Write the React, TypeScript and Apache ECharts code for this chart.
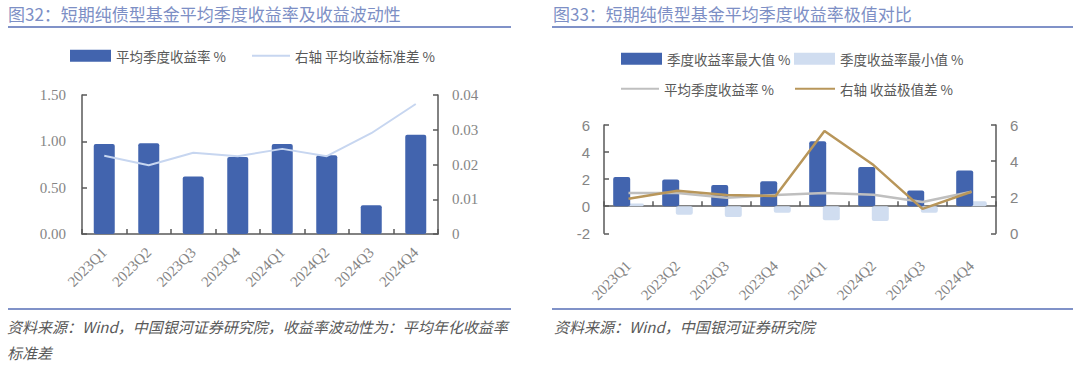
import React, { useEffect, useRef } from 'react';
import * as echarts from 'echarts';

const categories = ['2023Q1', '2023Q2', '2023Q3', '2023Q4', '2024Q1', '2024Q2', '2024Q3', '2024Q4'];
// Figure 32
const avgReturn = [0.97, 0.98, 0.62, 0.83, 0.97, 0.85, 0.31, 1.07];
const avgStd = [0.0225, 0.0198, 0.0234, 0.0224, 0.0245, 0.0224, 0.029, 0.0374];
// Figure 33
const maxReturn = [2.15, 1.97, 1.56, 1.85, 4.8, 2.9, 1.17, 2.63];
const minReturn = [0.2, -0.63, -0.8, -0.48, -1.04, -1.09, -0.48, 0.36];
const rangeReturn = [1.92, 2.36, 2.12, 2.07, 5.67, 3.78, 1.35, 2.3];

const title32 = '图32：短期纯债型基金平均季度收益率及收益波动性';
const title33 = '图33：短期纯债型基金平均季度收益率极值对比';
const source32 = ['资料来源：Wind，中国银河证券研究院，收益率波动性为：平均年化收益率', '标准差'];
const source33 = ['资料来源：Wind，中国银河证券研究院'];

const names32 = ['平均季度收益率 %', '右轴 平均收益标准差 %'];
const names33 = ['季度收益率最大值 %', '季度收益率最小值 %', '平均季度收益率 %', '右轴 收益极值差 %'];

const CJK = '"Noto Sans CJK SC", "Noto Sans", sans-serif';
const SERIF = '"Liberation Serif", "DejaVu Serif", serif';
const SANS = '"Liberation Sans", "DejaVu Sans", sans-serif';
const TITLE_COLOR = '#7D8FC5';
const RULE_COLOR = '#8092C8';
const TEXT_COLOR = '#595959';
const LABEL_COLOR = '#858585';
const AXIS_COLOR = '#595959';
const DARK = '#4264AE';
const LIGHT = '#D0DDF0';

function frame(title: string, titleX: number, x1: number, x2: number, footer: string[], footX: number) {
  const g: any[] = [
    {
      type: 'text',
      x: titleX,
      y: 13,
      style: { text: title, fill: TITLE_COLOR, fontSize: 17, fontFamily: CJK, verticalAlign: 'middle' },
    },
    { type: 'line', shape: { x1, y1: 27, x2, y2: 27 }, style: { stroke: RULE_COLOR, lineWidth: 2 } },
    { type: 'line', shape: { x1, y1: 309, x2, y2: 309 }, style: { stroke: RULE_COLOR, lineWidth: 2 } },
  ];
  footer.forEach((t, i) => {
    g.push({
      type: 'text',
      x: footX,
      y: 326 + i * 26,
      style: {
        text: t,
        fill: TEXT_COLOR,
        fontSize: 15,
        fontStyle: 'italic',
        fontFamily: CJK,
        verticalAlign: 'middle',
      },
    });
  });
  return g;
}

function legendItem(name: string, left: number, top: number, line: boolean, w: number) {
  return {
    left,
    top,
    padding: 0,
    itemWidth: w,
    itemHeight: line ? 2 : 12,
    itemGap: 0,
    selectedMode: false,
    textStyle: { color: TEXT_COLOR, fontSize: 13.5, fontFamily: CJK },
    data: [{ name, icon: 'rect' }],
  };
}

const axisLineStyle = { show: true, lineStyle: { color: AXIS_COLOR, width: 1.5 } };
const axisTickStyle = { show: true, inside: true, length: 5, lineStyle: { color: AXIS_COLOR, width: 1.5 } };

const leftOption: any = {
  animation: false,
  backgroundColor: '#ffffff',
  graphic: frame(title32, 8, 8, 511, source32, 7),
  legend: [legendItem(names32[0], 70, 49, false, 41), legendItem(names32[1], 252, 49, true, 38)],
  grid: { left: 82, top: 95, width: 356, height: 139 },
  xAxis: {
    type: 'category',
    data: categories,
    axisLine: axisLineStyle,
    axisTick: axisTickStyle,
    axisLabel: { rotate: 45, margin: 16, color: LABEL_COLOR, fontSize: 15, fontFamily: SERIF },
  },
  yAxis: [
    {
      type: 'value',
      min: 0,
      max: 1.5,
      interval: 0.5,
      splitLine: { show: false },
      axisLine: axisLineStyle,
      axisTick: axisTickStyle,
      axisLabel: {
        margin: 16,
        color: LABEL_COLOR,
        fontSize: 15,
        fontFamily: SERIF,
        formatter: (v: number) => v.toFixed(2),
      },
    },
    {
      type: 'value',
      min: 0,
      max: 0.04,
      interval: 0.01,
      splitLine: { show: false },
      axisLine: axisLineStyle,
      axisTick: axisTickStyle,
      axisLabel: {
        margin: 14,
        color: LABEL_COLOR,
        fontSize: 15,
        fontFamily: SERIF,
        formatter: (v: number) => (v === 0 ? '0' : v.toFixed(2)),
      },
    },
  ],
  series: [
    {
      name: names32[0],
      type: 'bar',
      data: avgReturn,
      barWidth: 21,
      color: DARK,
      itemStyle: { color: DARK, borderRadius: 2 },
    },
    {
      name: names32[1],
      type: 'line',
      yAxisIndex: 1,
      data: avgStd,
      symbol: 'none',
      color: '#C7D6F0',
      lineStyle: { color: '#C7D6F0', width: 2 },
      z: 4,
    },
  ],
};

const rightOption: any = {
  animation: false,
  backgroundColor: '#ffffff',
  graphic: frame(title33, 13, 12, 533, source33, 14),
  legend: [
    legendItem(names33[0], 81, 52, false, 41),
    legendItem(names33[1], 254, 52, false, 41),
    legendItem(names33[2], 81, 82, true, 38),
    legendItem(names33[3], 255, 82, true, 40),
  ],
  grid: { left: 64, top: 125, width: 392, height: 108.3 },
  xAxis: {
    type: 'category',
    data: categories,
    axisLine: { ...axisLineStyle, onZero: true },
    axisTick: axisTickStyle,
    axisLabel: { rotate: 45, margin: 30, color: LABEL_COLOR, fontSize: 15, fontFamily: SERIF },
  },
  yAxis: [
    {
      type: 'value',
      min: -2,
      max: 6,
      interval: 2,
      splitLine: { show: false },
      axisLine: axisLineStyle,
      axisTick: axisTickStyle,
      axisLabel: { margin: 14, color: LABEL_COLOR, fontSize: 15, fontFamily: SANS },
    },
    {
      type: 'value',
      min: 0,
      max: 6,
      interval: 2,
      splitLine: { show: false },
      axisLine: axisLineStyle,
      axisTick: axisTickStyle,
      axisLabel: { margin: 14, color: LABEL_COLOR, fontSize: 15, fontFamily: SANS },
    },
  ],
  series: [
    {
      name: names33[0],
      type: 'bar',
      data: maxReturn,
      barWidth: 17,
      barGap: '-20%',
      color: DARK,
      itemStyle: { color: DARK, borderRadius: 2 },
      z: 3,
    },
    {
      name: names33[1],
      type: 'bar',
      data: minReturn,
      barWidth: 17,
      color: LIGHT,
      itemStyle: { color: LIGHT, borderRadius: 2 },
      z: 2,
    },
    {
      name: names33[2],
      type: 'line',
      data: avgReturn,
      symbol: 'none',
      color: '#BFBFBF',
      lineStyle: { color: '#BFBFBF', width: 2.5 },
      z: 4,
    },
    {
      name: names33[3],
      type: 'line',
      yAxisIndex: 1,
      data: rangeReturn,
      symbol: 'none',
      color: '#B8965A',
      lineStyle: { color: '#B8965A', width: 2.5 },
      z: 5,
    },
  ],
};

export default function App() {
  const leftRef = useRef<HTMLDivElement>(null);
  const rightRef = useRef<HTMLDivElement>(null);
  useEffect(() => {
    const l = echarts.init(leftRef.current as HTMLDivElement, null, { renderer: 'svg' });
    l.setOption(leftOption);
    const r = echarts.init(rightRef.current as HTMLDivElement, null, { renderer: 'svg' });
    r.setOption(rightOption);
    return () => {
      l.dispose();
      r.dispose();
    };
  }, []);
  return (
    <div style={{ position: 'fixed', left: 0, top: 0, width: 1080, height: 367, background: '#ffffff' }}>
      <div ref={leftRef} style={{ position: 'absolute', left: 0, top: 0, width: 540, height: 367 }} />
      <div ref={rightRef} style={{ position: 'absolute', left: 540, top: 0, width: 540, height: 367 }} />
    </div>
  );
}
